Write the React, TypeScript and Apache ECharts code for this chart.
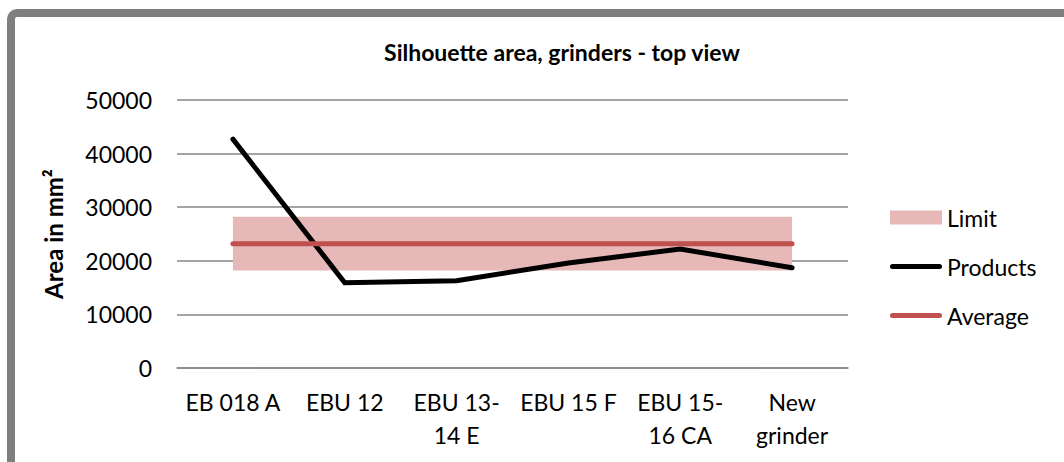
import React, { useEffect, useRef } from "react";
import * as echarts from "echarts";

const categories = ["EB 018 A", "EBU 12", "EBU 13-\n14 E", "EBU 15 F", "EBU 15-\n16 CA", "New\ngrinder"];
const products = [42700, 15900, 16300, 19600, 22200, 18700];
const average = [23200, 23200, 23200, 23200, 23200, 23200];
const limitLow = [18200, 18200, 18200, 18200, 18200, 18200];
const limitHigh = [28200, 28200, 28200, 28200, 28200, 28200];
const yTicks = [0, 10000, 20000, 30000, 40000, 50000];

const FONT = "Lato, 'Open Sans', sans-serif";
const LINE_ICON = "path://M2.5,0 H49.5 A2.5,2.5 0 0 1 49.5,5 H2.5 A2.5,2.5 0 0 1 2.5,0 Z";

export default function App() {
  const ref = useRef<HTMLDivElement>(null);
  useEffect(() => {
    document.body.style.margin = "0";
    document.body.style.overflow = "hidden";
    if (!ref.current) return;
    const chart = echarts.init(ref.current, null, { renderer: "svg" });
    const band = limitHigh.map((h, i) => h - limitLow[i]);
    chart.setOption({
      animation: false,
      backgroundColor: "#ffffff",
      title: {
        text: "Silhouette area, grinders - top view",
        left: 557,
        textAlign: "center",
        top: 35,
        textStyle: { fontFamily: FONT, fontWeight: "bold", fontSize: 23, color: "#000" },
      },
      graphic: [
        {
          type: "rect",
          shape: { x: 11, y: 13, width: 1100, height: 500, r: 6 },
          style: { fill: "none", stroke: "#7f7f7f", lineWidth: 8 },
          silent: true,
          z: 100,
        },
      ],
      grid: { left: 177, right: 216, top: 100, bottom: 94 },
      legend: {
        orient: "vertical",
        left: 885,
        top: 201,
        itemWidth: 52,
        itemHeight: 14,
        itemGap: 26,
        textStyle: { fontFamily: FONT, fontSize: 23, color: "#000", lineHeight: 22 },
        data: [
          { name: "Limit", icon: "rect" },
          { name: "Products", icon: LINE_ICON },
          { name: "Average", icon: LINE_ICON },
        ],
      },
      xAxis: {
        type: "category",
        data: categories,
        boundaryGap: true,
        axisLine: { show: true, lineStyle: { color: "#868686", width: 1.5 } },
        axisTick: { show: false },
        axisLabel: {
          fontFamily: FONT,
          fontSize: 23,
          color: "#000",
          lineHeight: 33,
          margin: 17,
          interval: 0,
        },
      },
      yAxis: {
        type: "value",
        min: yTicks[0],
        max: yTicks[yTicks.length - 1],
        interval: 10000,
        name: "Area in mm²",
        nameLocation: "middle",
        nameGap: 112,
        nameRotate: 90,
        nameTextStyle: { fontFamily: FONT, fontWeight: "bold", fontSize: 24, color: "#000" },
        axisLine: { show: false },
        axisTick: { show: false },
        axisLabel: {
          fontFamily: FONT,
          fontSize: 23,
          color: "#000",
          margin: 25,
          formatter: (v: number) => String(v),
        },
        splitLine: { lineStyle: { color: "#868686", width: 1.5 } },
      },
      series: [
        {
          name: "LimitBase",
          type: "line",
          stack: "limit",
          data: limitLow,
          symbol: "none",
          lineStyle: { width: 0, opacity: 0 },
          silent: true,
          z: 1,
        },
        {
          name: "Limit",
          type: "line",
          stack: "limit",
          data: band,
          symbol: "none",
          itemStyle: { color: "#e6b8b7" },
          lineStyle: { width: 0, opacity: 0 },
          areaStyle: { color: "#e6b8b7", opacity: 1 },
          silent: true,
          z: 1,
        },
        {
          name: "Products",
          type: "line",
          data: products,
          symbol: "none",
          itemStyle: { color: "#000000" },
          lineStyle: { color: "#000000", width: 5, cap: "round", join: "miter" },
          z: 2,
        },
        {
          name: "Average",
          type: "line",
          data: average,
          symbol: "none",
          itemStyle: { color: "#c0504d" },
          lineStyle: { color: "#c0504d", width: 5, cap: "round" },
          z: 3,
        },
      ],
    });
    return () => chart.dispose();
  }, []);
  return <div ref={ref} style={{ width: 1064, height: 462 }} />;
}
